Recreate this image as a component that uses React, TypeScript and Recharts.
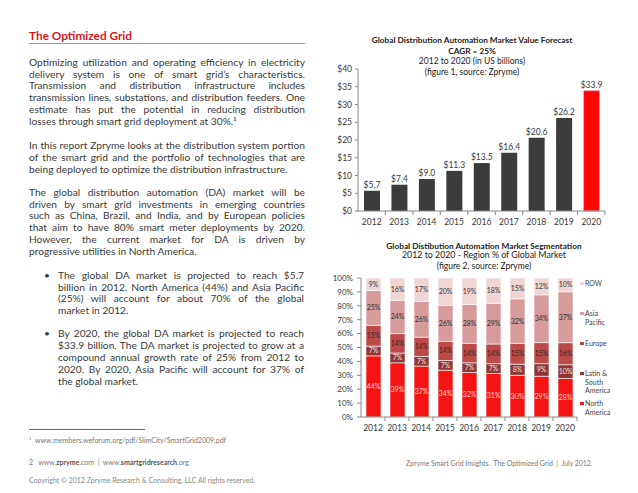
import React from 'react';
import { BarChart, Bar, XAxis, YAxis, Cell, LabelList } from 'recharts';

const YEARS = ['2012', '2013', '2014', '2015', '2016', '2017', '2018', '2019', '2020'];
const MARKET_VALUE = [5.7, 7.4, 9.0, 11.3, 13.5, 16.4, 20.6, 26.2, 33.9];
const VALUE_TICKS = [0, 5, 10, 15, 20, 25, 30, 35, 40];

const NORTH_AMERICA = [44, 39, 37, 34, 32, 31, 30, 29, 28];
const LATIN_SOUTH_AMERICA = [7, 7, 7, 7, 7, 7, 8, 9, 10];
const EUROPE = [15, 14, 14, 14, 14, 14, 15, 15, 16];
const ASIA_PACIFIC = [25, 24, 26, 26, 28, 29, 32, 34, 37];
const ROW = [9, 16, 17, 20, 19, 18, 15, 12, 10];
const PCT_TICKS = [0, 0.1, 0.2, 0.3, 0.4, 0.5, 0.6, 0.7, 0.8, 0.9, 1];

const SERIES = [
  { key: 'na', name: 'North America', values: NORTH_AMERICA, color: '#f51414', label: '#ffd0d0' },
  { key: 'lsa', name: 'Latin & South America', values: LATIN_SOUTH_AMERICA, color: '#8e3636', label: '#f0e0e0' },
  { key: 'eu', name: 'Europe', values: EUROPE, color: '#bb4a48', label: '#3a2222' },
  { key: 'ap', name: 'Asia Pacific', values: ASIA_PACIFIC, color: '#d69b9a', label: '#3a3030' },
  { key: 'row', name: 'ROW', values: ROW, color: '#f0d5d4', label: '#3a3a3a' },
];

const valueData = YEARS.map((year, i) => ({ year, value: MARKET_VALUE[i] }));
const segData = YEARS.map((year, i) => {
  const o: any = { year };
  SERIES.forEach((s) => (o[s.key] = s.values[i]));
  return o;
});

const FONT = 'Lato, "Liberation Sans", sans-serif';
const TEXT = '#3a3a3a';

const P1 = [
  'Optimizing utilization and operating efficiency in electricity',
  'delivery system is one of smart grid\u2019s characteristics.',
  'Transmission and distribution infrastructure includes',
  'transmission lines, substations, and distribution feeders. One',
  'estimate has put the potential in reducing distribution',
  'losses through smart grid deployment at 30%.\u00b9',
];
const P2 = [
  'In this report Zpryme looks at the distribution system portion',
  'of the smart grid and the portfolio of technologies that are',
  'being deployed to optimize the distribution infrastructure.',
];
const P3 = [
  'The global distribution automation (DA) market will be',
  'driven by smart grid investments in emerging countries',
  'such as China, Brazil, and India, and by European policies',
  'that aim to have 80% smart meter deployments by 2020.',
  'However, the current market for DA is driven by',
  'progressive utilities in North America.',
];
const B1 = [
  'The global DA market is projected to reach $5.7',
  'billion in 2012. North America (44%) and Asia Pacific',
  '(25%) will account for about 70% of the global',
  'market in 2012.',
];
const B2 = [
  'By 2020, the global DA market is projected to reach',
  '$33.9 billion. The DA market is projected to grow at a',
  'compound annual growth rate of 25% from 2012 to',
  '2020. By 2020, Asia Pacific will account for 37% of',
  'the global market.',
];

const LH = 11.8;

function Para({ lines, left, top, width }: { lines: string[]; left: number; top: number; width: number }) {
  return (
    <div style={{ position: 'absolute', left, top, width }}>
      {lines.map((l, i) => {
        const last = i === lines.length - 1;
        return (
          <div
            key={i}
            style={{
              height: LH,
              lineHeight: `${LH}px`,
              whiteSpace: 'nowrap',
              textAlign: last ? 'left' : 'justify',
              textAlignLast: last ? 'left' : 'justify',
            } as any}
          >
            {l}
          </div>
        );
      })}
    </div>
  );
}

function YearTick(props: any) {
  const { x, y, payload, band } = props;
  return (
    <g>
      <text x={x} y={y + 10.5} textAnchor="middle" dominantBaseline="central" fontSize={8.5} fill={TEXT} fontFamily={FONT}>
        {payload.value}
      </text>
      <line x1={x + band / 2} x2={x + band / 2} y1={y} y2={y + 4} stroke="#888" strokeWidth={1} />
    </g>
  );
}

function Title({ lines, cx, tops, sizes, bolds }: any) {
  return (
    <>
      {lines.map((l: string, i: number) => (
        <div
          key={i}
          style={{
            position: 'absolute',
            left: cx - 150,
            width: 300,
            top: tops[i] - 6,
            height: 12,
            lineHeight: '12px',
            textAlign: 'center',
            fontSize: sizes[i],
            fontWeight: bolds[i] ? 700 : 400,
            color: '#222',
            whiteSpace: 'nowrap',
          }}
        >
          {l}
        </div>
      ))}
    </>
  );
}

export default function App() {
  const c1W = 318, c1H = 200, c1L = 38, c1R = 33, c1T = 39, c1B = 19;
  const band1 = (c1W - c1L - c1R) / YEARS.length;
  const c2W = 318, c2H = 210, c2L = 41, c2R = 61, c2T = 43, c2B = 28;
  const band2 = (c2W - c2L - c2R) / YEARS.length;
  const legendItems = [...SERIES].reverse();

  return (
    <div
      style={{
        position: 'absolute',
        left: 0,
        top: 0,
        width: 638,
        height: 493,
        background: '#fff',
        fontFamily: FONT,
        color: TEXT,
        fontSize: 10.2,
        overflow: 'hidden',
      }}
    >
      {/* Heading */}
      <div style={{ position: 'absolute', left: 29, top: 29, lineHeight: '14px', fontSize: 11.8, fontWeight: 700, color: '#d7191f' }}>
        The Optimized Grid
      </div>
      <div style={{ position: 'absolute', left: 29, top: 43, width: 276, height: 1, background: '#9a9a9a' }} />

      <Para lines={P1} left={29} top={62.7 - LH / 2} width={276} />
      <Para lines={P2} left={29} top={146 - LH / 2} width={276} />
      <Para lines={P3} left={29} top={192.7 - LH / 2} width={276} />

      <div style={{ position: 'absolute', left: 44, top: 275.7 - LH / 2, lineHeight: `${LH}px` }}>•</div>
      <Para lines={B1} left={58} top={275.7 - LH / 2} width={246} />
      <div style={{ position: 'absolute', left: 44, top: 334.3 - LH / 2, lineHeight: `${LH}px` }}>•</div>
      <Para lines={B2} left={58} top={334.3 - LH / 2} width={246} />

      {/* footnote */}
      <div style={{ position: 'absolute', left: 29, top: 429, width: 116, height: 1, background: '#666' }} />
      <div style={{ position: 'absolute', left: 29, top: 434, fontSize: 7, lineHeight: '9px', color: '#777', whiteSpace: 'nowrap' }}>
        <sup style={{ fontSize: 4.5 }}>1</sup>&nbsp;&nbsp;www.members.weforum.org/pdf/SlimCity/SmartGrid2009.pdf
      </div>
      <div style={{ position: 'absolute', left: 29, top: 457.5, fontSize: 7, lineHeight: '9px', color: '#777', whiteSpace: 'nowrap' }}>
        2&nbsp;&nbsp;&nbsp;www.<b style={{ color: '#555' }}>zpryme</b>.com&nbsp;&nbsp;|&nbsp;&nbsp;www.<b style={{ color: '#555' }}>smartgridresearch</b>.org
      </div>
      <div style={{ position: 'absolute', left: 29, top: 475.5, fontSize: 7, lineHeight: '9px', color: '#888', whiteSpace: 'nowrap' }}>
        Copyright © 2012 Zpryme Research &amp; Consulting, LLC All rights reserved.
      </div>
      <div style={{ position: 'absolute', left: 406, top: 458.5, fontSize: 6.9, lineHeight: '9px', color: '#777', whiteSpace: 'nowrap' }}>
        Zpryme Smart Grid Insights.&nbsp;&nbsp;The Optimized Grid&nbsp;&nbsp;|&nbsp;&nbsp;July 2012
      </div>

      {/* Chart 1 */}
      <Title
        lines={['Global Distribution Automation Market Value Forecast', 'CAGR = 25%', '2012 to 2020 (in US billions)', '(figure 1, source: Zpryme)']}
        cx={472}
        tops={[40, 50.5, 60.7, 71.5]}
        sizes={[8.3, 8.3, 8.5, 8.5]}
        bolds={[true, true, false, false]}
      />
      <div style={{ position: 'absolute', left: 320, top: 30 }}>
        <BarChart width={c1W} height={c1H} data={valueData} margin={{ top: c1T, right: c1R, left: 0, bottom: 0 }} barSize={16}>
          <XAxis
            dataKey="year"
            height={c1B}
            axisLine={{ stroke: '#888' }}
            tickLine={false}
            tickSize={0}
            tickMargin={0}
            interval={0}
            tick={<YearTick band={band1} />}
          />
          <YAxis
            width={c1L}
            domain={[0, 40]}
            ticks={VALUE_TICKS}
            interval={0}
            axisLine={{ stroke: '#888' }}
            tickLine={{ stroke: '#888' }}
            tickSize={3}
            tickMargin={3}
            tick={{ fontSize: 8.5, fill: TEXT, fontFamily: FONT }}
            tickFormatter={(v: number) => `$${v}`}
          />
          <Bar dataKey="value" isAnimationActive={false}>
            {valueData.map((d, i) => (
              <Cell
                key={d.year}
                fill={i === valueData.length - 1 ? '#ff0606' : '#3c3c3c'}
                stroke={i === valueData.length - 1 ? '#f7a5a5' : 'none'}
                strokeWidth={1}
              />
            ))}
            <LabelList
              dataKey="value"
              position="top"
              offset={3}
              formatter={(v: any) => `$${Number(v).toFixed(1)}`}
              style={{ fontSize: 8.5, fill: TEXT, fontFamily: FONT }}
            />
          </Bar>
        </BarChart>
      </div>

      {/* Chart 2 */}
      <Title
        lines={['Global Distibution Automation Market Segmentation', '2012 to 2020 - Region % of Global Market', '(figure 2, source: Zpryme)']}
        cx={484}
        tops={[245.7, 255.2, 265.7]}
        sizes={[8.3, 8.8, 8.5]}
        bolds={[true, false, false]}
      />
      <div style={{ position: 'absolute', left: 320, top: 235 }}>
        <BarChart
          width={c2W}
          height={c2H}
          data={segData}
          stackOffset="expand"
          margin={{ top: c2T, right: c2R, left: 0, bottom: 0 }}
          barSize={15}
        >
          <XAxis
            dataKey="year"
            height={c2B}
            axisLine={{ stroke: '#888' }}
            tickLine={false}
            tickSize={0}
            tickMargin={0}
            interval={0}
            tick={<YearTick band={band2} />}
          />
          <YAxis
            width={c2L}
            domain={[0, 1]}
            ticks={PCT_TICKS}
            interval={0}
            axisLine={{ stroke: '#888' }}
            tickLine={{ stroke: '#888' }}
            tickSize={4}
            tickMargin={4}
            tick={{ fontSize: 8, fill: TEXT, fontFamily: FONT }}
            tickFormatter={(v: number) => `${Math.round(v * 100)}%`}
          />
          {SERIES.map((s) => (
            <Bar key={s.key} dataKey={s.key} name={s.name} stackId="a" fill={s.color} stroke="#fff" strokeWidth={0.6} isAnimationActive={false}>
              <LabelList
                dataKey={s.key}
                position="center"
                formatter={(v: any) => `${v}%`}
                style={{ fontSize: 7, fill: s.label, fontFamily: FONT }}
              />
            </Bar>
          ))}
        </BarChart>
      </div>

      {/* Legend chart 2 */}
      {legendItems.map((s, i) => (
        <div
          key={s.key}
          style={{ position: 'absolute', left: 580, top: 283.3 + 30 * i - 4, width: 40, fontSize: 7, lineHeight: '8.2px', color: '#444' }}
        >
          <div style={{ position: 'absolute', left: 0, top: 2.5, width: 3.5, height: 3.5, background: s.color }} />
          <div style={{ marginLeft: 5, width: 30 }}>{s.name}</div>
        </div>
      ))}
    </div>
  );
}
